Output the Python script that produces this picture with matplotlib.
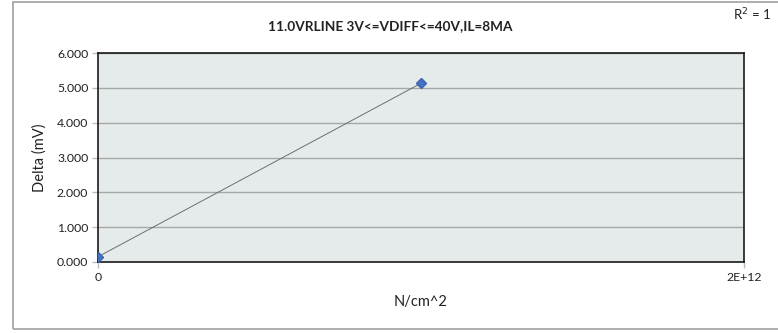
import matplotlib

matplotlib.use("Agg")
import matplotlib.pyplot as plt
from matplotlib.patches import Rectangle

plt.rcParams["font.family"] = ["Lato", "DejaVu Sans"]

pressure = [0.0, 1.0e12]          # N/cm^2
delta_mv = [0.15, 5.13]           # Delta (mV)
y_ticks = [0, 1, 2, 3, 4, 5, 6]
x_ticks = [0, 2e12]
x_tick_labels = ["0", "2E+12"]

W, H = 778, 333
fig = plt.figure(figsize=(W / 100, H / 100), dpi=100)

# outer chart border (runs off the right edge)
fig.patches.append(Rectangle((13 / W, 4 / H), 1.0, (329 - 2) / H,
                             transform=fig.transFigure, fill=False,
                             edgecolor="#a0a0a0", lw=1.2))

ax = fig.add_axes([98 / W, 1 - 262 / H, (744 - 98) / W, (262 - 53) / H])
ax.set_facecolor("#e5ebeb")

ax.plot(pressure, delta_mv, color="#6e6e6e", lw=0.7, zorder=3)
ax.plot(pressure, delta_mv, ls="none", marker="D", ms=5.5,
        color="#4472c4", mec="#3a64b0", zorder=4)

ax.set_xlim(0, 2e12)
ax.set_ylim(0, 6)
ax.set_yticks(y_ticks)
ax.set_yticklabels([f"{v:.3f}" for v in y_ticks])
ax.set_xticks(x_ticks)
ax.set_xticklabels(x_tick_labels)
ax.grid(axis="y", color="#a6a6a6", lw=1.0)
ax.set_axisbelow(True)
for s in ax.spines.values():
    s.set_color("#1a1a1a")
    s.set_linewidth(1.2)
ax.tick_params(axis="both", labelsize=8.8, colors="#bdbdbd", labelcolor="#222222",
               length=4, width=1.0, pad=3)

ax.set_ylabel("Delta (mV)", fontsize=10.5, color="#222222", labelpad=7)
ax.set_xlabel("N/cm^2", fontsize=10.5, color="#222222", labelpad=9)

fig.text(390 / W, 1 - 26 / H, "11.0VRLINE 3V<=VDIFF<=40V,IL=8MA",
         ha="center", va="center", fontsize=9.8, fontweight="bold",
         color="#222222")
fig.text(771 / W, 1 - 15 / H, "R$^2$ = 1", ha="right", va="center",
         fontsize=9.5, color="#222222")

fig.savefig("out.png", dpi=100)
